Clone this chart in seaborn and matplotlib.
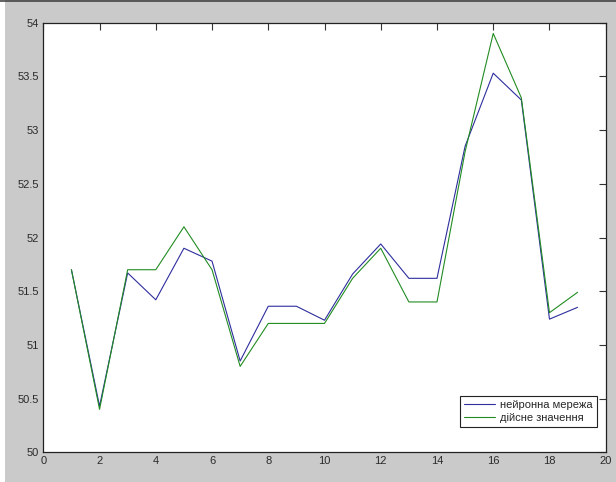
import numpy as np
import pandas as pd
import matplotlib
matplotlib.use("Agg")
import matplotlib.pyplot as plt
import seaborn as sns

# Observation index and the two series
steps = list(range(1, 20))
network = [51.70, 50.43, 51.67, 51.42, 51.90, 51.78, 50.85, 51.36, 51.36, 51.23,
           51.66, 51.94, 51.62, 51.62, 52.85, 53.53, 53.28, 51.24, 51.35]
actual = [51.70, 50.40, 51.70, 51.70, 52.10, 51.70, 50.80, 51.20, 51.20, 51.20,
          51.62, 51.90, 51.40, 51.40, 52.80, 53.90, 53.30, 51.30, 51.49]
series_names = ["нейронна мережа", "дійсне значення"]
x_ticks = [0, 2, 4, 6, 8, 10, 12, 14, 16, 18, 20]
y_ticks = [50, 50.5, 51, 51.5, 52, 52.5, 53, 53.5, 54]
y_tick_labels = ["50", "50.5", "51", "51.5", "52", "52.5", "53", "53.5", "54"]

df = pd.DataFrame({
    "step": steps * 2,
    "value": network + actual,
    "series": [series_names[0]] * len(steps) + [series_names[1]] * len(steps),
})

sns.set_style("white")
plt.rcParams["font.family"] = ["Liberation Sans", "DejaVu Sans"]

fig = plt.figure(figsize=(6.16, 4.82), dpi=100)
fig.patch.set_facecolor("#cacaca")
ax = fig.add_axes([0.0703, 0.0616, 0.9130, 0.8913])
ax.set_facecolor("white")

sns.lineplot(data=df, x="step", y="value", hue="series",
             palette={series_names[0]: "#2e2e9e", series_names[1]: "#228c22"},
             linewidth=0.8, ax=ax, legend=True)

ax.set_xlim(0, 20)
ax.set_ylim(50, 54)
ax.set_xticks(x_ticks)
ax.set_xticklabels([str(t) for t in x_ticks])
ax.set_yticks(y_ticks)
ax.set_yticklabels(y_tick_labels)
ax.set_xlabel("")
ax.set_ylabel("")
ax.tick_params(direction="in", length=5, width=0.8, colors="#333333",
               labelsize=8, labelcolor="#2a2a2a", top=True, right=True,
               pad=3)
for side in ax.spines.values():
    side.set_visible(True)
    side.set_color("#222222")
    side.set_linewidth(0.9)

leg = ax.legend(loc="lower right", bbox_to_anchor=(0.994, 0.045),
                fontsize=8, frameon=True, fancybox=False, handlelength=2.8,
                handletextpad=0.4, borderpad=0.4, labelspacing=0.25)
leg.get_frame().set_edgecolor("#222222")
leg.get_frame().set_linewidth(0.8)
leg.get_frame().set_alpha(1)

# thin white strip on the left and dark rule along the top edge
fig.patches.append(plt.Rectangle((0, 0), 5 / 616, 1, transform=fig.transFigure,
                                 facecolor="white", edgecolor="none", zorder=-1))
fig.lines.append(plt.Line2D([0, 1], [1 - 1 / 482, 1 - 1 / 482], transform=fig.transFigure,
                            color="#444444", linewidth=1.2))

fig.savefig("out.png", dpi=100, facecolor=fig.get_facecolor())
